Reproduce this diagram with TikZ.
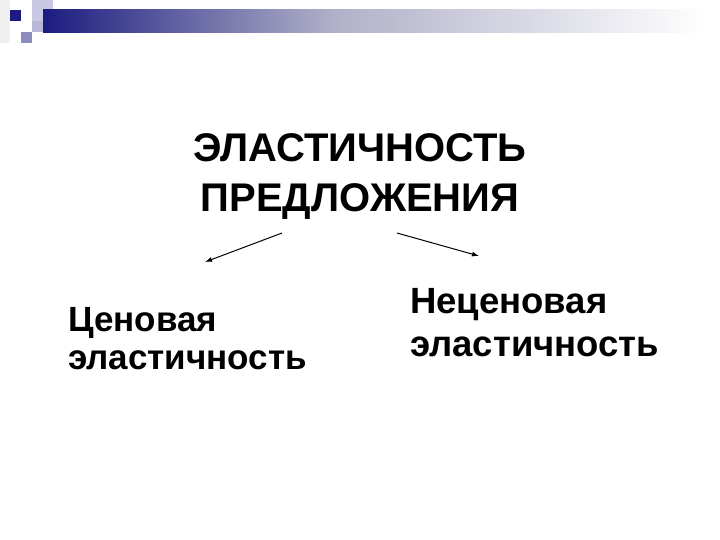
\documentclass[tikz,border=0pt]{standalone}
\usepackage{fontspec}
\setmainfont{Liberation Sans}
\usetikzlibrary{arrows.meta}
\definecolor{barnavy}{RGB}{28,28,128}
\definecolor{barmid}{RGB}{175,175,200}
\definecolor{sqlight}{RGB}{200,200,228}
\definecolor{sqpale}{RGB}{185,185,215}
\definecolor{sqmid}{RGB}{140,140,190}
\tikzset{
  headtext/.style={font=\bfseries\fontsize{40}{50}\selectfont, align=center, inner sep=0pt, anchor=north},
  subtext/.style={align=left, inner sep=0pt, anchor=north west},
  branch/.style={-{Latex[length=7pt,width=5pt]}, line width=1pt}
}

\begin{document}
\begin{tikzpicture}[x=1pt, y=-1pt]
  \useasboundingbox[fill=white] (0,0) rectangle (720,540);
  % header bar
  \fill[gray!12] (0,0) rectangle (10,43);
  \fill[barnavy] (10,10) rectangle (21,21);
  \fill[sqlight] (32,0) rectangle (53,21);
  \fill[sqpale] (32,21) rectangle (43,32);
  \fill[sqmid] (21,32) rectangle (32,43);
  \shade[left color=barnavy, right color=barmid] (43,10) rectangle (330,33);
  \shade[left color=barmid, right color=white] (330,10) rectangle (705,33);

  \node[headtext] (title) at (360,133.5) {ЭЛАСТИЧНОСТЬ\\ПРЕДЛОЖЕНИЯ};
  \node[subtext, font=\bfseries\fontsize{35}{38}\selectfont] (price) at (68,307) {Ценовая\\эластичность};
  \node[subtext, font=\bfseries\fontsize{36.5}{43}\selectfont] (nonprice) at (410,288) {Неценовая\\эластичность};

  \coordinate (lstart) at (282,233);
  \coordinate (lend) at (205,262);
  \coordinate (rstart) at (397,233);
  \coordinate (rend) at (479,256);
  \draw[branch] (lstart) -- (lend);
  \draw[branch] (rstart) -- (rend);
\end{tikzpicture}
\end{document}
